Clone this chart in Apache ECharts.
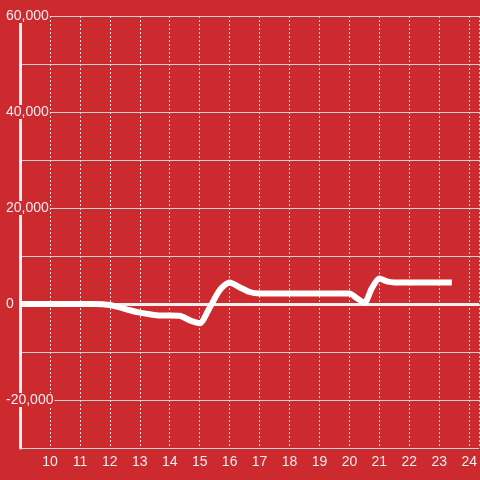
<!DOCTYPE html>
<html>
<head>
<meta charset="utf-8">
<script src="https://cdn.jsdelivr.net/npm/echarts@6/dist/echarts.min.js"></script>
<style>
html,body{margin:0;padding:0;background:#cd2a2f;}
#chart{width:480px;height:480px;}
</style>
</head>
<body>
<div id="chart"></div>
<script>
var hours = [9, 10, 11, 11.5, 12, 12.33, 12.67, 13, 13.33, 13.67, 14, 14.33, 14.67, 15, 15.33, 15.67, 16, 16.33, 16.67, 17, 18, 19, 20, 20.25, 20.5, 20.75, 21, 21.25, 21.5, 22, 23, 23.42];
var values = [0, 0, 0, 0, -200, -700, -1300, -1800, -2150, -2400, -2400, -2450, -3400, -4000, -800, 2900, 4500, 3500, 2500, 2200, 2200, 2200, 2200, 1200, 250, 3300, 5300, 4700, 4500, 4500, 4500, 4500];
var yTickLabels = [-20000, 0, 20000, 40000, 60000];
var xTickLabels = [10, 11, 12, 13, 14, 15, 16, 17, 18, 19, 20, 21, 22, 23, 24];

var bg = '#cd2a2f';
var data = hours.map(function (h, i) { return [h, values[i]]; });

var chart = echarts.init(document.getElementById('chart'), null, {renderer: 'canvas'});
chart.setOption({
  backgroundColor: bg,
  animation: false,
  textStyle: {fontFamily: 'Liberation Sans, Arial, sans-serif'},
  grid: {left: 20, right: 0, top: 16, bottom: 32, containLabel: false},
  xAxis: {
    type: 'value',
    min: 9,
    max: 24.3333,
    interval: 1,
    axisLine: {show: false},
    axisTick: {show: false},
    axisLabel: {
      color: '#eeeeee',
      fontSize: 14,
      margin: 7,
      showMinLabel: false,
      showMaxLabel: false,
      formatter: function (v) { return xTickLabels.indexOf(v) >= 0 ? String(v) : ''; }
    },
    splitLine: {show: true, lineStyle: {color: '#dddddd', width: 1, type: [2, 2]}}
  },
  yAxis: {
    type: 'value',
    min: -30000,
    max: 60000,
    interval: 10000,
    axisLine: {show: true, lineStyle: {color: '#eeeeee', width: 3}},
    axisTick: {show: false},
    axisLabel: {
      color: '#eeeeee',
      fontSize: 14,
      align: 'left',
      margin: 14,
      backgroundColor: bg,
      padding: [0, 1, 0, 0],
      formatter: function (v) {
        return yTickLabels.indexOf(v) >= 0 ? v.toLocaleString('en-US') : '';
      }
    },
    splitLine: {show: true, lineStyle: {color: '#d0d0d0', width: 1}}
  },
  series: [{
    type: 'line',
    data: data,
    smooth: 0.25,
    showSymbol: false,
    lineStyle: {color: '#ffffff', width: 6},
    z: 3,
    markLine: {
      silent: true,
      symbol: 'none',
      label: {show: false},
      lineStyle: {color: '#eeeeee', width: 3, type: 'solid'},
      data: [{yAxis: 0}],
      z: 2
    }
  }]
});
</script>
</body>
</html>
